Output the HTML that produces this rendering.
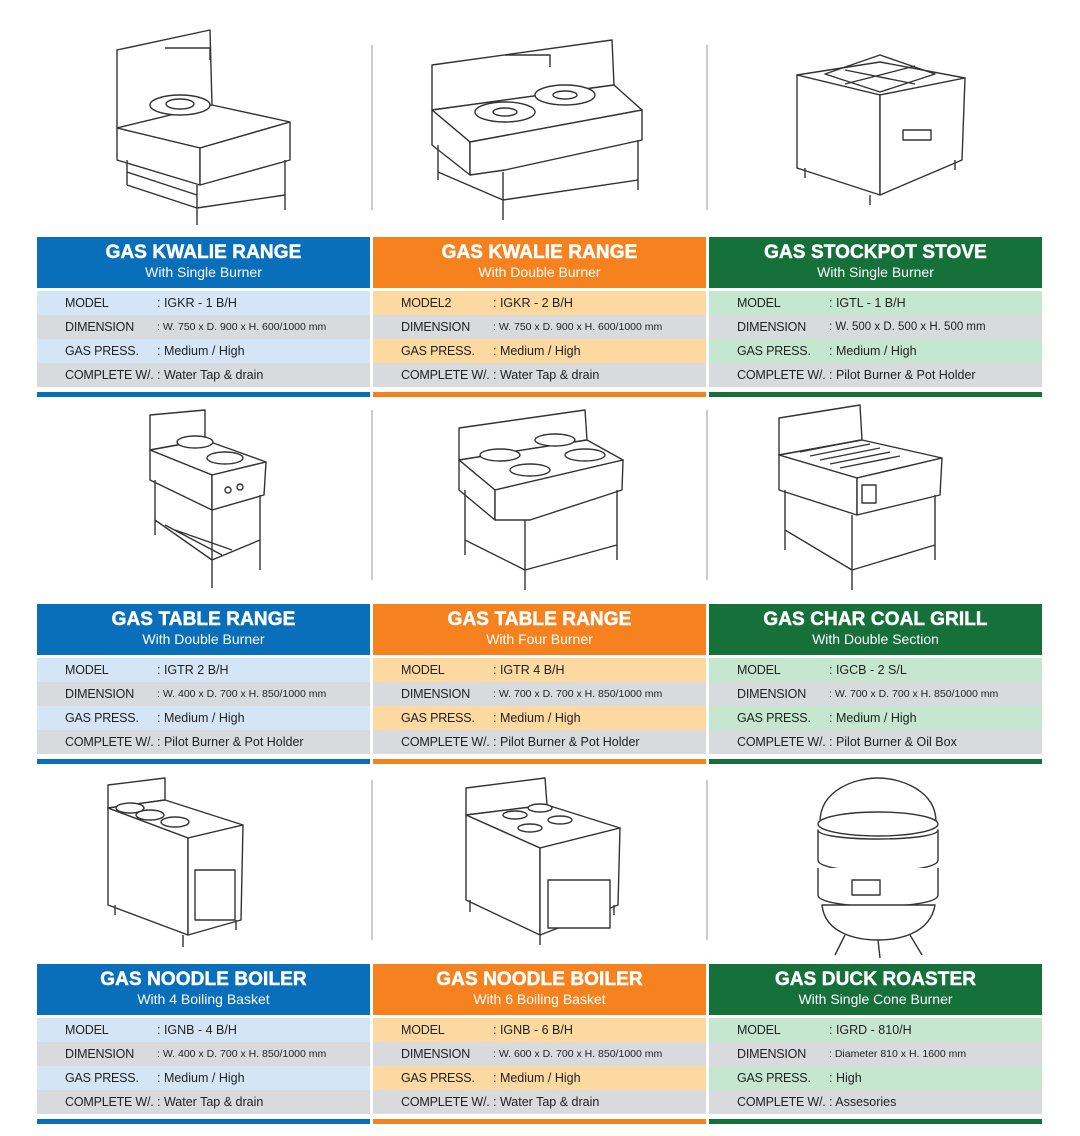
<!DOCTYPE html>
<html><head><meta charset="utf-8">
<style>
*{margin:0;padding:0;box-sizing:border-box}
body{width:1080px;height:1136px;background:#fff;position:relative;overflow:hidden;font-family:"Liberation Sans",sans-serif}
.card{position:absolute;width:333px}
.hd{height:51px;color:#fff;text-align:center;padding-top:5px}
.hd b{display:block;font-size:19px;font-weight:900;line-height:22px;letter-spacing:0.1px;-webkit-text-stroke:0.5px #fff}
.hd span{display:block;font-size:14px;line-height:17px}
.r{height:24px;position:relative;font-size:12.5px;color:#222;line-height:24px}
.r i{font-style:normal;position:absolute;left:28px;letter-spacing:-0.2px}
.r em{font-style:normal;position:absolute;left:120px}
.r em.s{font-size:10.5px}
.r em.m{font-size:11.5px}
.t{margin-top:3px}
.bar{height:5px;margin-top:5px}
.b .hd,.b .bar{background:#0a6fba}.b .o1{background:#d4e6f5}
.o .hd,.o .bar{background:#f5821f}.o .o1{background:#fcd9a0}
.g .hd,.g .bar{background:#16703a}.g .o1{background:#c5e6cf}
.e{background:#d9dade}
svg{position:absolute;left:0;top:0}
</style></head><body>
<svg width="1080" height="1136" fill="#fff" stroke="#333" stroke-width="1.4" stroke-linejoin="round">
<g stroke="#ccc" stroke-width="2"><line x1="372" y1="45" x2="372" y2="210"/><line x1="707" y1="45" x2="707" y2="210"/><line x1="372" y1="410" x2="372" y2="580"/><line x1="707" y1="410" x2="707" y2="580"/><line x1="372" y1="780" x2="372" y2="940"/><line x1="707" y1="780" x2="707" y2="940"/></g>
<g><polygon points="117,50 210,30 212,105 117,128"/><path d="M165,48 h45 v12" fill="none"/>
<polygon points="117,128 212,105 290,122 200,148"/><polygon points="117,128 200,148 200,185 117,160"/><polygon points="200,148 290,122 290,160 200,185"/>
<ellipse cx="180" cy="105" rx="30" ry="10"/><ellipse cx="180" cy="104" rx="14" ry="5"/>
<path d="M127,160 v25 M197,185 v40 M285,160 v50 M127,185 L197,208 L285,195 M127,172 L197,195" fill="none"/></g>
<g><polygon points="432,65 612,40 614,85 432,110"/><path d="M505,55 h45 v12" fill="none"/>
<polygon points="432,110 614,85 642,110 470,142"/><polygon points="432,110 470,142 470,175 432,145"/><polygon points="470,142 642,110 642,140 505,170 470,175"/>
<ellipse cx="505" cy="112" rx="30" ry="10"/><ellipse cx="565" cy="95" rx="30" ry="10"/><ellipse cx="505" cy="112" rx="12" ry="4"/><ellipse cx="565" cy="95" rx="12" ry="4"/>
<path d="M438,145 v35 M503,172 v48 M638,140 v50 M438,172 L503,200 L638,180" fill="none"/></g>
<g><polygon points="797,75 880,62 965,78 880,95"/><polygon points="797,75 880,95 880,195 797,168"/><polygon points="880,95 965,78 962,160 880,195"/>
<path d="M825,74 L880,55 L935,74 L880,92 Z M845,70 L915,84 M915,66 L845,84" fill="none"/>
<rect x="903" y="130" width="28" height="10"/><path d="M805,168 v10 M870,195 v10 M955,160 v10" fill="none"/></g>
<g><polygon points="150,415 205,410 205,440 150,450"/><polygon points="150,450 205,440 266,462 212,475"/><polygon points="150,450 212,475 212,510 150,480"/><polygon points="212,475 266,462 264,495 212,510"/>
<ellipse cx="195" cy="442" rx="18" ry="6"/><ellipse cx="225" cy="458" rx="18" ry="6"/><circle cx="228" cy="490" r="3"/><circle cx="240" cy="487" r="3"/>
<path d="M155,480 v55 M212,510 v78 M260,495 v75 M155,520 L212,560 L260,540 M165,525 L222,555 M175,530 L232,550" fill="none"/></g>
<g><polygon points="459,428 585,410 587,440 459,460"/><polygon points="459,460 587,440 623,460 495,490"/><polygon points="459,460 495,490 495,520 459,490"/><polygon points="495,490 623,460 622,490 530,520 495,520"/>
<ellipse cx="500" cy="455" rx="20" ry="6"/><ellipse cx="555" cy="440" rx="20" ry="6"/><ellipse cx="530" cy="470" rx="20" ry="6"/><ellipse cx="585" cy="455" rx="20" ry="6"/>
<path d="M465,490 v65 M525,520 v70 M617,490 v70 M465,540 L525,570 L617,545" fill="none"/></g>
<g><polygon points="779,418 860,405 862,440 779,455"/><polygon points="779,455 862,440 942,458 857,478"/><polygon points="779,455 857,478 857,515 779,490"/><polygon points="857,478 942,458 940,495 857,515"/>
<path d="M800,452 L860,440 M810,456 L870,444 M820,460 L880,448 M830,464 L890,452 M840,468 L900,456" fill="none"/><rect x="862" y="485" width="14" height="18"/>
<path d="M785,490 v60 M852,515 v75 M935,495 v65 M785,530 L852,570 L935,545" fill="none"/></g>
<g><polygon points="108,785 165,778 165,800 108,808"/><polygon points="108,808 165,800 243,825 188,838"/><polygon points="108,808 188,838 188,935 108,905"/><polygon points="188,838 243,825 241,920 188,935"/>
<ellipse cx="150" cy="815" rx="14" ry="5"/><ellipse cx="175" cy="822" rx="14" ry="5"/><ellipse cx="130" cy="808" rx="14" ry="5"/>
<rect x="195" y="870" width="40" height="50"/><path d="M115,905 v10 M183,935 v12 M236,920 v10" fill="none"/></g>
<g><polygon points="466,788 545,778 547,805 466,815"/><polygon points="466,815 547,805 620,828 540,848"/><polygon points="466,815 540,848 540,935 466,900"/><polygon points="540,848 620,828 618,905 540,935"/>
<ellipse cx="515" cy="815" rx="12" ry="4"/><ellipse cx="540" cy="808" rx="12" ry="4"/><ellipse cx="530" cy="828" rx="12" ry="4"/><ellipse cx="560" cy="820" rx="12" ry="4"/>
<rect x="548" y="880" width="62" height="48"/><path d="M470,900 v12 M540,935 v10 M614,905 v10" fill="none"/></g>
<g><path d="M820,822 C820,790 855,778 878,778 C900,778 936,790 936,822 Z"/><ellipse cx="878" cy="824" rx="60" ry="12"/>
<path d="M818,830 L818,860 C818,875 938,875 938,860 L938,830 C938,842 818,842 818,830 Z"/><path d="M818,868 L818,895 C818,910 938,910 938,895 L938,868"/>
<path d="M822,905 C825,935 860,940 878,940 C896,940 930,935 935,905 Z"/><rect x="852" y="880" width="28" height="15"/>
<path d="M845,935 L835,955 M910,935 L922,955 M878,940 L880,958" fill="none"/></g>
</svg>

<div class="card b" style="left:37px;top:237px"><div class="hd"><b>GAS KWALIE RANGE</b><span>With Single Burner</span></div><div class="t">
<div class="r o1"><i>MODEL</i><em>: IGKR - 1 B/H</em></div><div class="r e"><i>DIMENSION</i><em class="s">: W. 750 x D. 900 x H. 600/1000 mm</em></div><div class="r o1"><i>GAS PRESS.</i><em>: Medium / High</em></div><div class="r e"><i>COMPLETE W/.</i><em>: Water Tap &amp; drain</em></div></div><div class="bar"></div></div>

<div class="card o" style="left:373px;top:237px"><div class="hd"><b>GAS KWALIE RANGE</b><span>With Double Burner</span></div><div class="t">
<div class="r o1"><i>MODEL2</i><em>: IGKR - 2 B/H</em></div><div class="r e"><i>DIMENSION</i><em class="s">: W. 750 x D. 900 x H. 600/1000 mm</em></div><div class="r o1"><i>GAS PRESS.</i><em>: Medium / High</em></div><div class="r e"><i>COMPLETE W/.</i><em>: Water Tap &amp; drain</em></div></div><div class="bar"></div></div>

<div class="card g" style="left:709px;top:237px"><div class="hd"><b>GAS STOCKPOT STOVE</b><span>With Single Burner</span></div><div class="t">
<div class="r o1"><i>MODEL</i><em>: IGTL - 1 B/H</em></div><div class="r e"><i>DIMENSION</i><em class="m">: W. 500 x D. 500 x H. 500 mm</em></div><div class="r o1"><i>GAS PRESS.</i><em>: Medium / High</em></div><div class="r e"><i>COMPLETE W/.</i><em>: Pilot Burner &amp; Pot Holder</em></div></div><div class="bar"></div></div>

<div class="card b" style="left:37px;top:604px"><div class="hd"><b>GAS TABLE RANGE</b><span>With Double Burner</span></div><div class="t">
<div class="r o1"><i>MODEL</i><em>: IGTR 2 B/H</em></div><div class="r e"><i>DIMENSION</i><em class="s">: W. 400 x D. 700 x H. 850/1000 mm</em></div><div class="r o1"><i>GAS PRESS.</i><em>: Medium / High</em></div><div class="r e"><i>COMPLETE W/.</i><em>: Pilot Burner &amp; Pot Holder</em></div></div><div class="bar"></div></div>

<div class="card o" style="left:373px;top:604px"><div class="hd"><b>GAS TABLE RANGE</b><span>With Four Burner</span></div><div class="t">
<div class="r o1"><i>MODEL</i><em>: IGTR 4 B/H</em></div><div class="r e"><i>DIMENSION</i><em class="s">: W. 700 x D. 700 x H. 850/1000 mm</em></div><div class="r o1"><i>GAS PRESS.</i><em>: Medium / High</em></div><div class="r e"><i>COMPLETE W/.</i><em>: Pilot Burner &amp; Pot Holder</em></div></div><div class="bar"></div></div>

<div class="card g" style="left:709px;top:604px"><div class="hd"><b>GAS CHAR COAL GRILL</b><span>With Double Section</span></div><div class="t">
<div class="r o1"><i>MODEL</i><em>: IGCB - 2 S/L</em></div><div class="r e"><i>DIMENSION</i><em class="s">: W. 700 x D. 700 x H. 850/1000 mm</em></div><div class="r o1"><i>GAS PRESS.</i><em>: Medium / High</em></div><div class="r e"><i>COMPLETE W/.</i><em>: Pilot Burner &amp; Oil Box</em></div></div><div class="bar"></div></div>

<div class="card b" style="left:37px;top:964px"><div class="hd"><b>GAS NOODLE BOILER</b><span>With 4 Boiling Basket</span></div><div class="t">
<div class="r o1"><i>MODEL</i><em>: IGNB - 4 B/H</em></div><div class="r e"><i>DIMENSION</i><em class="s">: W. 400 x D. 700 x H. 850/1000 mm</em></div><div class="r o1"><i>GAS PRESS.</i><em>: Medium / High</em></div><div class="r e"><i>COMPLETE W/.</i><em>: Water Tap &amp; drain</em></div></div><div class="bar"></div></div>

<div class="card o" style="left:373px;top:964px"><div class="hd"><b>GAS NOODLE BOILER</b><span>With 6 Boiling Basket</span></div><div class="t">
<div class="r o1"><i>MODEL</i><em>: IGNB - 6 B/H</em></div><div class="r e"><i>DIMENSION</i><em class="s">: W. 600 x D. 700 x H. 850/1000 mm</em></div><div class="r o1"><i>GAS PRESS.</i><em>: Medium / High</em></div><div class="r e"><i>COMPLETE W/.</i><em>: Water Tap &amp; drain</em></div></div><div class="bar"></div></div>

<div class="card g" style="left:709px;top:964px"><div class="hd"><b>GAS DUCK ROASTER</b><span>With Single Cone Burner</span></div><div class="t">
<div class="r o1"><i>MODEL</i><em>: IGRD - 810/H</em></div><div class="r e"><i>DIMENSION</i><em class="s">: Diameter 810 x H. 1600 mm</em></div><div class="r o1"><i>GAS PRESS.</i><em>: High</em></div><div class="r e"><i>COMPLETE W/.</i><em>: Assesories</em></div></div><div class="bar"></div></div>
</body></html>
